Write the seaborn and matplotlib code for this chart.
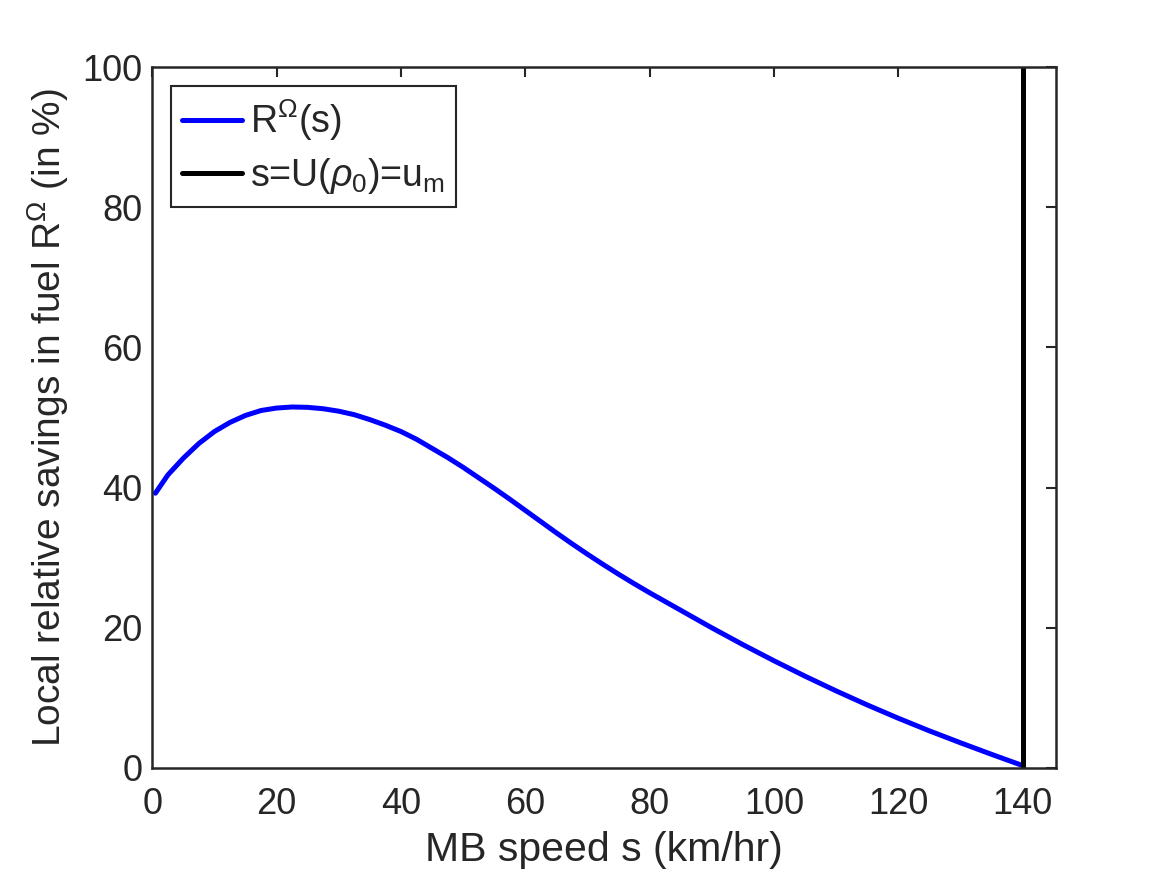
import pandas as pd
import matplotlib
matplotlib.use("Agg")
import matplotlib.pyplot as plt
import seaborn as sns

# values
speed = [0.5, 2.5, 5, 7.5, 10, 12.5, 15, 17.5, 20, 22.5, 25, 27.5, 30, 32.5,
         35, 37.5, 40, 42.5, 45, 47.5, 50, 52.5, 55, 57.5, 60, 62.5, 65, 67.5,
         70, 72.5, 75, 77.5, 80, 85, 90, 95, 100, 105, 110, 115, 120, 125,
         130, 135, 140]
savings = [39.2, 41.8, 44.2, 46.3, 48.0, 49.3, 50.3, 51.0, 51.35, 51.5, 51.45,
           51.25, 50.9, 50.4, 49.7, 48.9, 48.0, 46.9, 45.6, 44.3, 42.9, 41.4,
           39.9, 38.35, 36.75, 35.15, 33.55, 32.0, 30.5, 29.05, 27.65, 26.3,
           25.0, 22.5, 20.0, 17.6, 15.3, 13.1, 11.0, 9.0, 7.1, 5.3, 3.6, 1.95,
           0.35]
u_m = 140.1
x_ticks = [0, 20, 40, 60, 80, 100, 120, 140]
y_ticks = [0, 20, 40, 60, 80, 100]


def create_plot():
    sns.set_style("white")
    plt.rcParams['font.family'] = ['Liberation Sans', 'DejaVu Sans']
    plt.rcParams['mathtext.fontset'] = 'custom'
    plt.rcParams['mathtext.rm'] = 'Liberation Sans'
    plt.rcParams['mathtext.it'] = 'Liberation Sans:italic'

    df = pd.DataFrame({'s': speed, 'R': savings})

    fig = plt.figure(figsize=(11.67, 8.75), dpi=100)
    ax = fig.add_axes([0.1305, 0.1223, 0.7745, 0.8011])

    sns.lineplot(data=df, x='s', y='R', ax=ax, color='#0000ff', linewidth=3.6,
                 label=r'R$^{\Omega}$(s)')
    ax.axvline(u_m, color='black', linewidth=3.6,
               label=r's=U($\rho_0$)=u$_\mathrm{m}$')

    ax.set_xlim(0, 145.4)
    ax.set_ylim(0, 100)
    ax.set_xticks(x_ticks)
    ax.set_yticks(y_ticks)
    ax.set_xlabel('MB speed s (km/hr)', fontsize=29.5, color='#262626',
                  labelpad=6)
    ax.set_ylabel(r'Local relative savings in fuel R$^{\Omega}$ (in %)',
                  fontsize=28, color='#262626', labelpad=8)

    ax.tick_params(direction='in', length=7, width=1.5, colors='#262626',
                   labelsize=26, top=True, right=True, pad=7)
    ax.tick_params(axis='x', pad=14)
    for sp in ax.spines.values():
        sp.set_color('#262626')
        sp.set_linewidth(1.8)

    leg = ax.legend(loc='upper left', fontsize=27, frameon=True, fancybox=False,
                    edgecolor='#262626', borderaxespad=0.5, handlelength=1.6,
                    handletextpad=0.2, borderpad=0.3, labelspacing=0.35)
    leg.get_frame().set_linewidth(1.5)
    leg.get_frame().set_alpha(1)

    fig.savefig('out.png', dpi=100)
    plt.close(fig)


if __name__ == "__main__":
    create_plot()
